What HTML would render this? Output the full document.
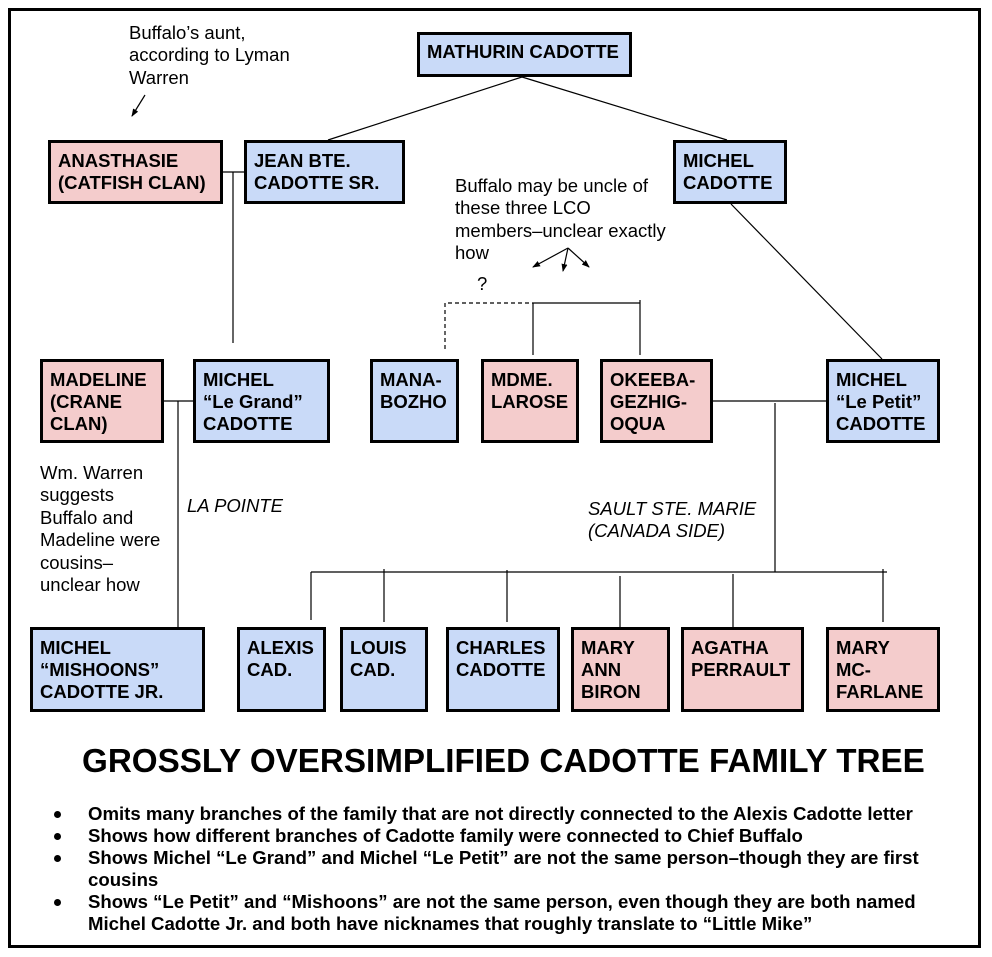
<!DOCTYPE html>
<html>
<head>
<meta charset="utf-8">
<style>
  html, body { margin:0; padding:0; background:#fff; }
  body { width:992px; height:957px; position:relative; overflow:hidden;
         font-family:"Liberation Sans", Arial, sans-serif; color:#000; }
  .frame { position:absolute; left:8px; top:8px; width:973px; height:940px;
           border:3px solid #000; box-sizing:border-box; }
  .b { position:absolute; box-sizing:border-box; border:3px solid #000;
       font-weight:bold; font-size:18.5px; line-height:22px;
       padding:7px 0 0 7px; white-space:nowrap; }
  .p { background:#f4cccc; }
  .u { background:#c9daf8; }
  .t { position:absolute; font-size:18.5px; line-height:22.4px; white-space:nowrap; }
  .i { font-style:italic; }
  .title { position:absolute; left:82px; top:742px; font-weight:bold;
           font-size:33.2px; line-height:40px; white-space:nowrap; }
  .bl { position:absolute; left:88px; font-weight:bold; font-size:18.6px;
        line-height:22px; white-space:nowrap; }
  .dot { position:absolute; left:54px; width:7px; height:7px; border-radius:50%; background:#000; }
  svg { position:absolute; left:0; top:0; }
</style>
</head>
<body>
<div class="frame"></div>

<svg width="992" height="957" viewBox="0 0 992 957">
  <defs>
    <marker id="ah" markerWidth="8" markerHeight="6" refX="7" refY="3" orient="auto" markerUnits="userSpaceOnUse">
      <path d="M0,0 L8,3 L0,6 z" fill="#000"/>
    </marker>
  </defs>
  <g stroke="#000" stroke-width="1.2" fill="none">
    <line x1="522" y1="77" x2="328" y2="140"/>
    <line x1="522" y1="77" x2="727" y2="140"/>
    <line x1="731" y1="204" x2="882" y2="359"/>
    <line x1="223" y1="172" x2="244" y2="172"/>
    <line x1="233" y1="172" x2="233" y2="343"/>
    <path d="M445,349 L445,303 L533,303" stroke-dasharray="4,3"/>
    <line x1="533" y1="303" x2="640" y2="303"/>
    <line x1="533" y1="303" x2="533" y2="355"/>
    <line x1="640" y1="300" x2="640" y2="355"/>
    <line x1="164" y1="401" x2="193" y2="401"/>
    <line x1="178" y1="401" x2="178" y2="627"/>
    <line x1="713" y1="401" x2="826" y2="401"/>
    <line x1="775" y1="403" x2="775" y2="572"/>
    <line x1="311" y1="572" x2="887" y2="572"/>
    <line x1="311" y1="572" x2="311" y2="620"/>
    <line x1="384" y1="569" x2="384" y2="622"/>
    <line x1="507" y1="570" x2="507" y2="622"/>
    <line x1="620" y1="576" x2="620" y2="627"/>
    <line x1="733" y1="574" x2="733" y2="627"/>
    <line x1="883" y1="569" x2="883" y2="622"/>
    <line x1="145" y1="95" x2="132" y2="116" marker-end="url(#ah)"/>
    <line x1="568" y1="248" x2="533" y2="267" marker-end="url(#ah)"/>
    <line x1="568" y1="248" x2="563" y2="271" marker-end="url(#ah)"/>
    <line x1="568" y1="248" x2="589" y2="267" marker-end="url(#ah)"/>
  </g>
</svg>

<div class="b u" style="left:417px;top:32px;width:215px;height:45px;padding-top:6px;">MATHURIN CADOTTE</div>

<div class="b p" style="left:48px;top:140px;width:175px;height:64px;">ANASTHASIE<br>(CATFISH CLAN)</div>
<div class="b u" style="left:244px;top:140px;width:161px;height:64px;">JEAN BTE.<br>CADOTTE SR.</div>
<div class="b u" style="left:673px;top:140px;width:114px;height:64px;">MICHEL<br>CADOTTE</div>

<div class="b p" style="left:40px;top:359px;width:124px;height:84px;">MADELINE<br>(CRANE<br>CLAN)</div>
<div class="b u" style="left:193px;top:359px;width:137px;height:84px;">MICHEL<br>“Le Grand”<br>CADOTTE</div>
<div class="b u" style="left:370px;top:359px;width:89px;height:84px;">MANA-<br>BOZHO</div>
<div class="b p" style="left:481px;top:359px;width:98px;height:84px;">MDME.<br>LAROSE</div>
<div class="b p" style="left:600px;top:359px;width:113px;height:84px;">OKEEBA-<br>GEZHIG-<br>OQUA</div>
<div class="b u" style="left:826px;top:359px;width:114px;height:84px;">MICHEL<br>“Le Petit”<br>CADOTTE</div>

<div class="b u" style="left:30px;top:627px;width:175px;height:85px;">MICHEL<br>“MISHOONS”<br>CADOTTE JR.</div>
<div class="b u" style="left:237px;top:627px;width:89px;height:85px;">ALEXIS<br>CAD.</div>
<div class="b u" style="left:340px;top:627px;width:88px;height:85px;">LOUIS<br>CAD.</div>
<div class="b u" style="left:446px;top:627px;width:114px;height:85px;">CHARLES<br>CADOTTE</div>
<div class="b p" style="left:571px;top:627px;width:99px;height:85px;">MARY<br>ANN<br>BIRON</div>
<div class="b p" style="left:681px;top:627px;width:123px;height:85px;">AGATHA<br>PERRAULT</div>
<div class="b p" style="left:826px;top:627px;width:114px;height:85px;">MARY<br>MC-<br>FARLANE</div>

<div class="t" style="left:129px;top:22px;">Buffalo’s aunt,<br>according to Lyman<br>Warren</div>
<div class="t" style="left:455px;top:175px;">Buffalo may be uncle of<br>these three LCO<br>members–unclear exactly<br>how</div>
<div class="t" style="left:477px;top:273px;">?</div>
<div class="t" style="left:40px;top:462px;">Wm. Warren<br>suggests<br>Buffalo and<br>Madeline were<br>cousins–<br>unclear how</div>
<div class="t i" style="left:187px;top:495px;">LA POINTE</div>
<div class="t i" style="left:588px;top:498px;">SAULT STE. MARIE<br>(CANADA SIDE)</div>

<div class="title">GROSSLY OVERSIMPLIFIED CADOTTE FAMILY TREE</div>

<div class="dot" style="top:811px;"></div>
<div class="bl" style="top:803px;">Omits many branches of the family that are not directly connected to the Alexis Cadotte letter</div>
<div class="dot" style="top:833px;"></div>
<div class="bl" style="top:825px;">Shows how different branches of Cadotte family were connected to Chief Buffalo</div>
<div class="dot" style="top:855px;"></div>
<div class="bl" style="top:847px;">Shows Michel “Le Grand” and Michel “Le Petit” are not the same person–though they are first<br>cousins</div>
<div class="dot" style="top:899px;"></div>
<div class="bl" style="top:891px;">Shows “Le Petit” and “Mishoons” are not the same person, even though they are both named<br>Michel Cadotte Jr. and both have nicknames that roughly translate to “Little Mike”</div>

</body>
</html>
